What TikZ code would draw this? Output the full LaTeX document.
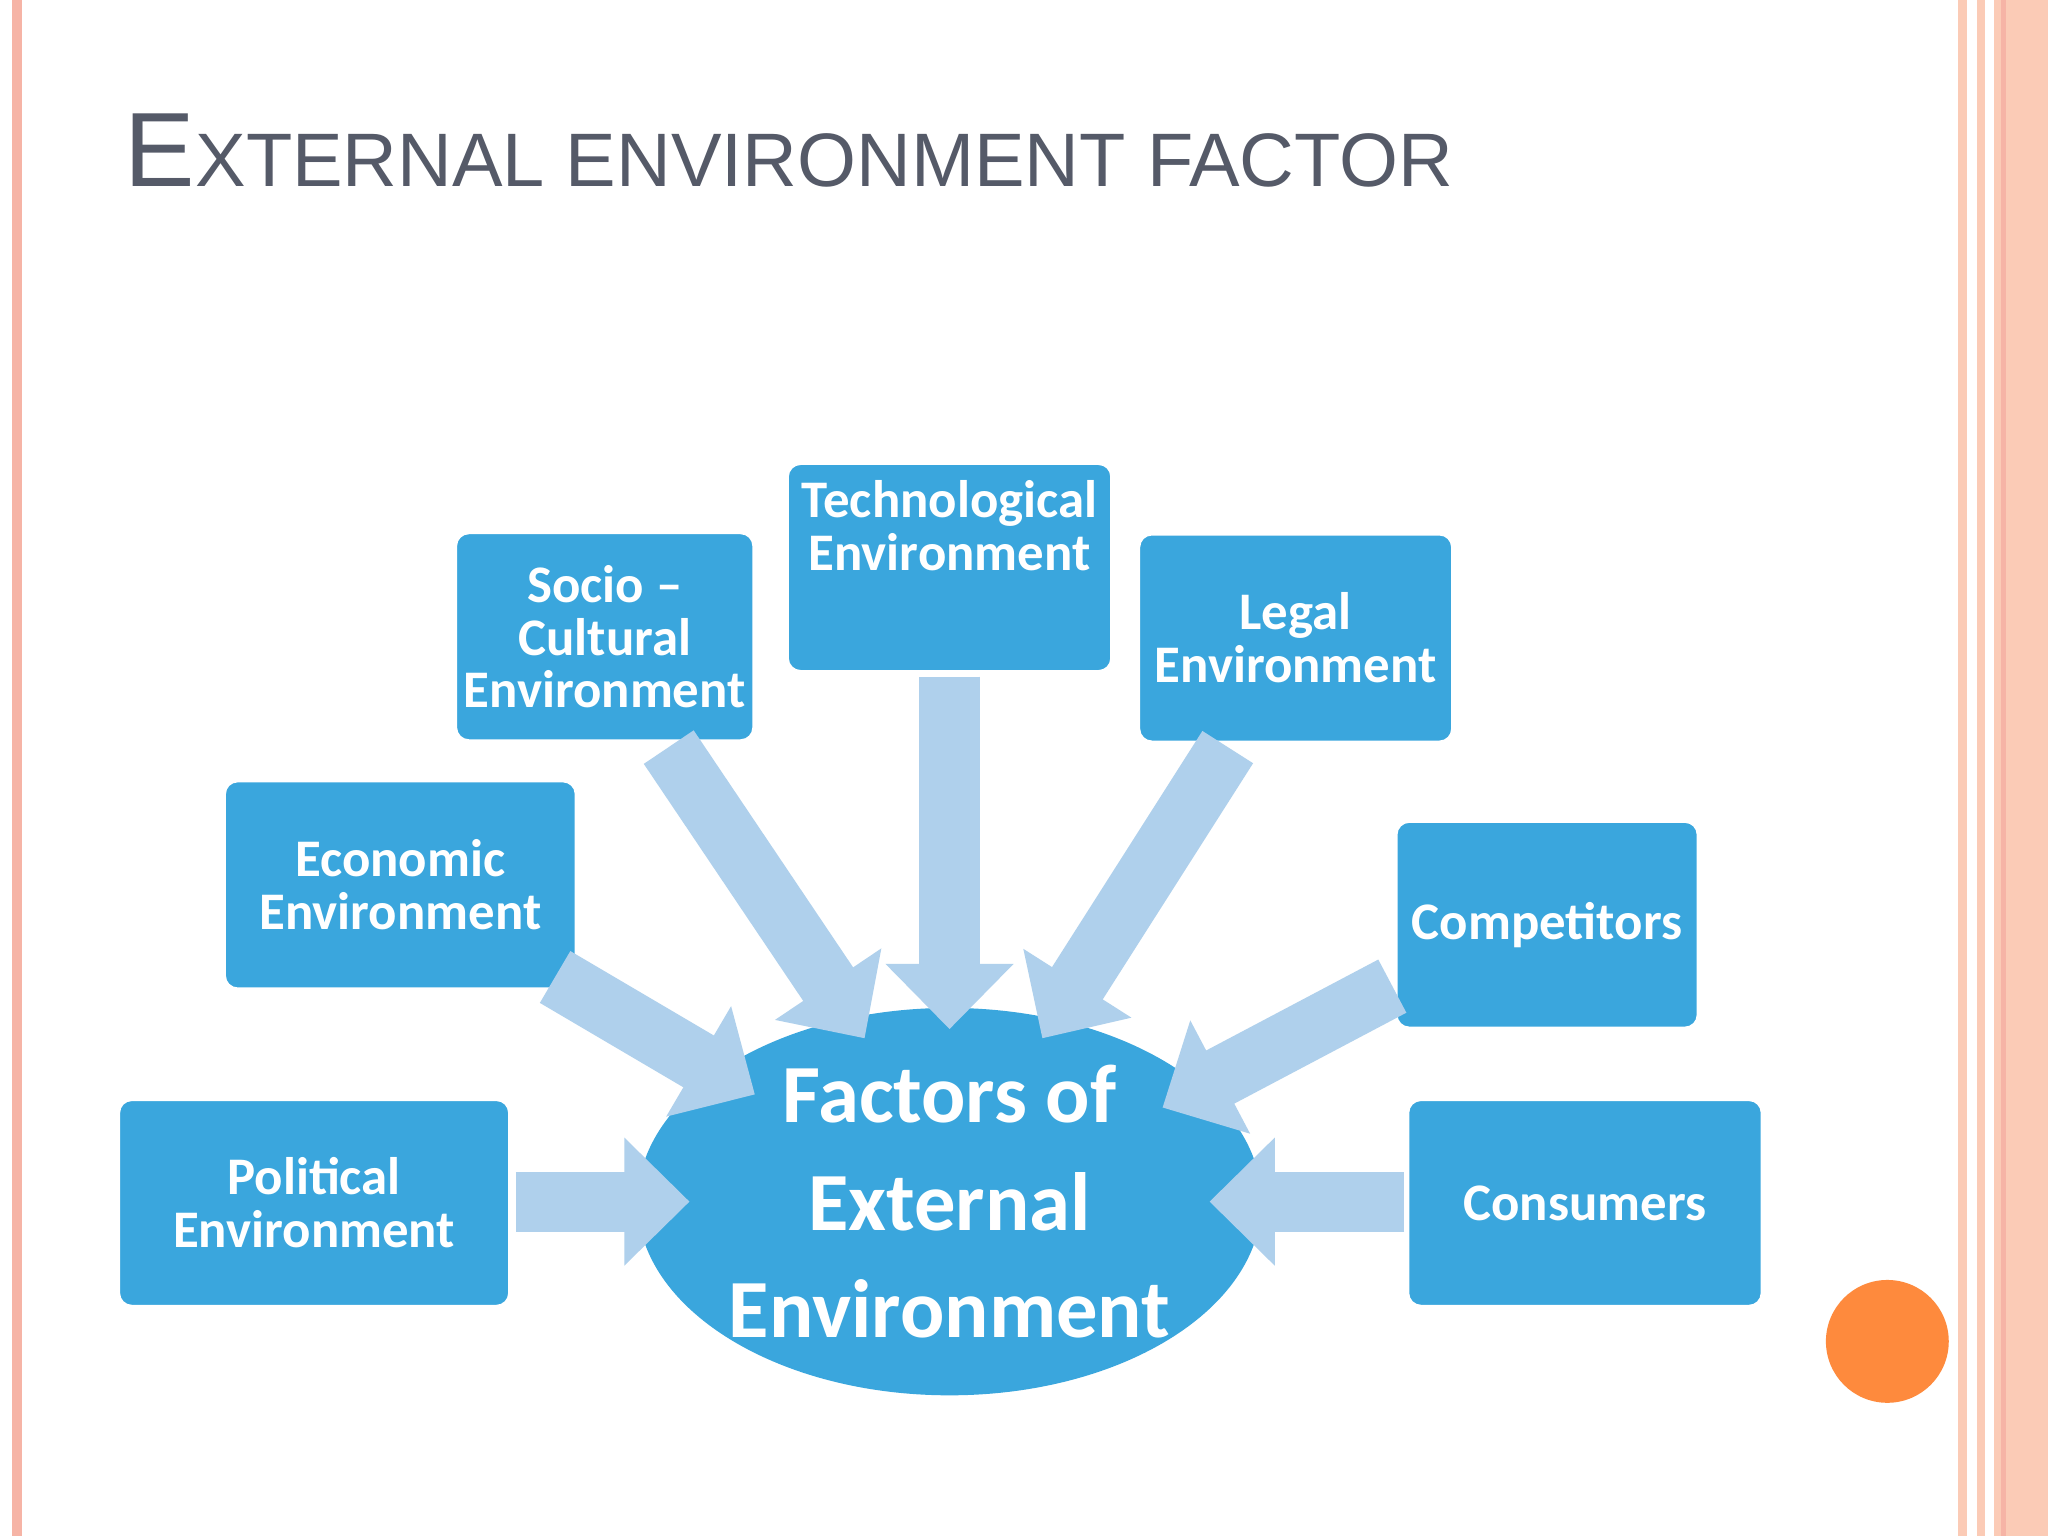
\documentclass[tikz,border=0pt]{standalone}
\usepackage{fontspec}
\setmainfont{Carlito}
\newfontfamily\titlefont{Liberation Sans}
\usetikzlibrary{arrows.meta,shapes.geometric}
\definecolor{boxblue}{HTML}{3AA6DD}
\definecolor{arrblue}{HTML}{AFD0EC}
\definecolor{titlegray}{HTML}{555A68}
\definecolor{pinkline}{HTML}{F6B4A6}
\definecolor{salmon}{HTML}{FBCBB6}
\definecolor{orangedot}{HTML}{FE8A3D}
\tikzset{
 fbox/.style={fill=boxblue,draw=white,line width=0.6pt,rounded corners=0.1cm,text=white,font=\bfseries\fontsize{11.5}{11.5}\selectfont,align=center,inner sep=0pt},
 flow/.style={draw=arrblue,line width=0.46cm,-{Triangle[length=0.5cm,width=0.95cm]},shorten <=0pt}
}
\begin{document}
\begin{tikzpicture}[x=0.01cm,y=-0.01cm]
\useasboundingbox (0,0) rectangle (1568,1176);
\fill[white] (0,0) rectangle (1568,1176);
% borders
\fill[pinkline] (9,0) rectangle (17,1176);
\fill[salmon] (1499,0) rectangle (1506,1176);
\fill[salmon] (1514,0) rectangle (1520,1176);
\fill[salmon] (1527,0) rectangle (1568,1176);
\draw[pinkline,line width=1pt] (1534,0) -- (1534,1176);
\node[circle,fill=orangedot,minimum size=0.94cm,inner sep=0pt] (dot) at (1445,1027) {};
% title
\node[anchor=base west,inner sep=0pt,text=titlegray,font=\titlefont] (title) at (95,143)
 {{\fontsize{23}{23}\selectfont E}{\fontsize{16.5}{16.5}\selectfont XTERNAL ENVIRONMENT FACTOR}};
% boxes
\node[fbox,minimum width=2.99cm,minimum height=1.58cm] (pol) at (240.5,921) {Political\\Environment};
\node[fbox,minimum width=2.69cm,minimum height=1.59cm] (eco) at (306.5,677.5) {Economic\\Environment};
\node[fbox,minimum width=2.28cm,minimum height=1.59cm] (soc) at (463,487.5) {Socio –\\Cultural\\Environment};
\node[fbox,minimum width=2.48cm,minimum height=1.59cm] (tec) at (727,434.5) {Technological\\Environment\\[0.6em]};
\node[fbox,minimum width=2.40cm,minimum height=1.59cm] (leg) at (992,488.5) {Legal\\Environment};
\node[fbox,minimum width=2.31cm,minimum height=1.58cm] (com) at (1184.5,708) {Competitors};
\node[fbox,minimum width=2.71cm,minimum height=1.58cm] (con) at (1213.5,921) {Consumers};
\node[ellipse,fill=boxblue,text=white,minimum width=3.56cm,minimum height=2.16cm,inner sep=0pt,
 font=\bfseries\fontsize{18}{23.5}\selectfont,align=center] (fac) at (727,920) {Factors of\\External\\Environment};
% arrow endpoints
\coordinate (p1) at (395,920); \coordinate (p2) at (528,920);
\coordinate (e1) at (425,748); \coordinate (e2) at (578,838);
\coordinate (s1) at (512,572); \coordinate (s2) at (662,795);
\coordinate (t1) at (727,518); \coordinate (t2) at (727,788);
\coordinate (l1) at (940,572); \coordinate (l2) at (798,795);
\coordinate (c1) at (1066,755); \coordinate (c2) at (890,848);
\coordinate (n1) at (1075,920); \coordinate (n2) at (926,920);
\draw[flow] (p1) -- (p2);
\draw[flow] (e1) -- (e2);
\draw[flow] (s1) -- (s2);
\draw[flow] (t1) -- (t2);
\draw[flow] (l1) -- (l2);
\draw[flow] (c1) -- (c2);
\draw[flow] (n1) -- (n2);
\end{tikzpicture}
\end{document}
